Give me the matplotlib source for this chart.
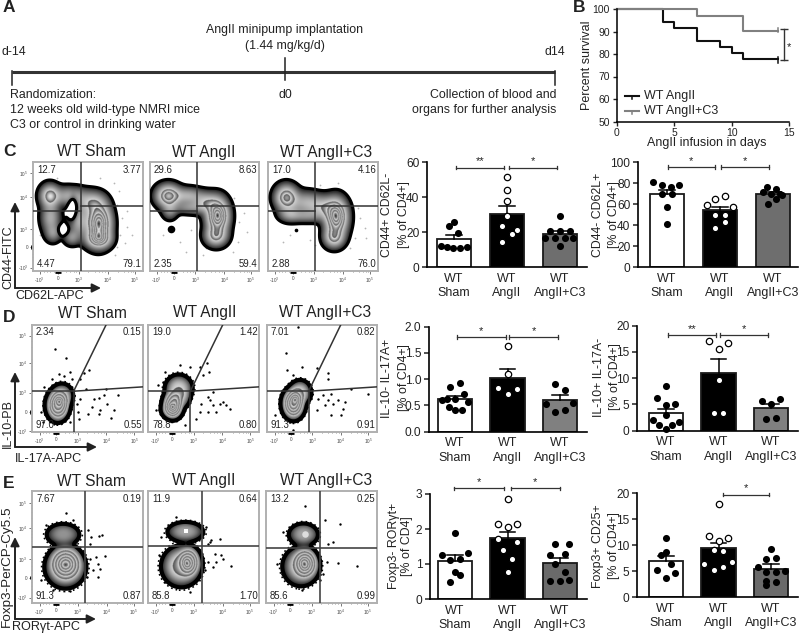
import numpy as np
import matplotlib
matplotlib.use('Agg')
import matplotlib.pyplot as plt

plt.rcParams['font.family'] = ['Liberation Sans', 'DejaVu Sans']
plt.rcParams['mathtext.default'] = 'regular'

W, H = 800, 634
TXT = '#222222'

# Survival curves (panel B)
surv_days = [0, 4, 5, 7, 9, 10, 11, 14]
surv_angii = [100, 94.4, 91.5, 86.0, 83.2, 80.4, 77.6, 77.6]
surv_days_c3 = [0, 7, 11, 14]
surv_c3 = [100, 96.9, 90.4, 90.4]

# Bars: one entry per panel, groups are Sham, AngII, AngII+C3
groups = ['WT\nSham', 'WT\nAngII', 'WT\nAngII+C3']

cd44hi_bar = [16.3, 30.5, 19.2]
cd44hi_err = [18.3, 34.8, 21.0]
cd44hi_y = [[26, 23.5, 19.4, 12.4, 11.4, 11.2, 11.2, 11.8],
            [51.4, 44.2, 38, 29.5, 23.6, 21.3, 18.9, 14.7],
            [29.5, 20.8, 20.8, 20.8, 16.6, 16.6, 16.6, 16.6, 12.4]]
cd44hi_x = [[0, -.09, .08, -.25, -.14, -.01, .11, .24],
            [0, 0, 0, 0, -.09, .18, .09, -.09],
            [0, -.19, 0, .19, -.28, -.09, .09, .25, 0]]

cd62l_bar = [69.5, 54.6, 69.8]
cd62l_err = [73.7, 57.8, 72.0]
cd62l_y = [[81.3, 78.7, 76.8, 78.7, 69.5, 69.5, 57.8, 41.3],
           [59, 65.4, 68.3, 57, 49.8, 49.8, 43.5, 37.8],
           [76.2, 75, 71.4, 69.5, 69.5, 65, 69, 60]]
cd62l_x = [[-.27, -.1, .07, .23, -.1, .09, 0, 0],
           [-.25, -.09, .09, .25, -.09, .09, .09, -.09],
           [-.11, .06, -.19, -.03, .14, .06, .17, -.09]]

il17_bar = [0.62, 1.02, 0.60]
il17_err = [0.68, 1.19, 0.69]
il17_y = [[.93, .86, .71, .60, .63, .63, .56, .48, .41, .41],
          [1.64, 1.09, .83, .81, .72],
          [.91, .79, .55, .53, .41, .38]]
il17_x = [[.09, -.09, .18, -.25, -.16, 0, .25, -.12, 0, .13],
          [0, 0, -.18, .18, 0],
          [-.1, .09, .25, -.26, .09, -.09]]

il10_bar = [3.4, 11.0, 4.3]
il10_err = [4.2, 13.7, 5.1]
il10_y = [[8.6, 6.2, 4.9, 5, 3, 2.1, 1.6, 1.1, 1.1, 0.4],
          [17, 16.8, 15.5, 9.6, 3.4, 3.4],
          [5.7, 6, 5, 2.3, 2.4]]
il10_x = [[0, -.18, 0, .18, 0, -.25, .25, -.13, .12, 0],
          [-.18, .18, 0, 0, -.09, .09],
          [-.18, .18, 0, -.09, .09]]

ror_bar = [1.10, 1.73, 1.03]
ror_err = [1.26, 1.92, 1.17]
ror_y = [[1.89, 1.26, 1.31, 1.11, 1.14, .78, .7, .48],
         [2.85, 2.14, 2.14, 2.05, 1.71, 1.62, 1.41, 1.15, .78],
         [1.57, 1.57, 1.26, 1.29, 1.0, .76, .52, .52, .54]]
ror_x = [[0, -.25, .25, -.09, .09, 0, .09, -.09],
         [0, -.18, .18, 0, -.18, .18, -.09, .09, 0],
         [-.1, .18, -.19, .09, -.1, .09, -.19, 0, .18]]

foxp3_bar = [6.9, 9.4, 5.5]
foxp3_err = [7.9, 10.5, 6.3]
foxp3_y = [[11.3, 8.6, 8.1, 6.4, 5.2, 4.6, 3.7],
           [17.9, 11.8, 10.8, 11.3, 9.1, 8.8, 6.3, 6.8, 5.9, 5.2],
           [9.3, 7.3, 7.5, 5.9, 4.9, 4.9, 5.1, 3.1, 2.9, 2.4]]
foxp3_x = [[0, 0, -.1, .09, -.18, .18, 0],
           [0, -.18, 0, .18, -.09, .09, -.27, .25, .09, -.09],
           [0, -.09, .09, -.25, -.09, .09, .27, -.09, .09, -.09]]

# Flow plots. Everything below is in channel units of each plot frame.
# Density blobs are cx, cy, sx, sy, weight as estimated from the picture
c_blobs = [
    [(50, 225, 17, 20, .55), (110, 225, 30, 17, .3), (175, 205, 25, 20, .35), (196, 143, 22, 35, 1.0),
     (195, 95, 22, 16, .55), (52, 160, 17, 28, .3), (60, 112, 14, 16, .2), (115, 100, 14, 14, .2),
     (135, 150, 18, 30, .3), (91, 123, 8, 8, -.5), (119, 188, 8, 22, -.5)],
    [(55, 225, 22, 20, .7), (115, 225, 28, 15, .3), (170, 205, 24, 18, .35), (205, 165, 20, 30, 1.0),
     (200, 105, 20, 18, .5), (60, 180, 14, 16, .2), (120, 190, 30, 12, .2)],
    [(55, 220, 20, 22, .7), (115, 205, 30, 20, .3), (170, 190, 28, 20, .35), (205, 160, 20, 32, 1.0),
     (198, 100, 18, 18, .5), (65, 170, 20, 14, .25), (115, 165, 30, 12, .2)],
]
d_blobs = [
    [(77, 80, 20, 27, 1), (90, 108, 20, 22, .3)],
    [(75, 82, 18, 24, 1), (92, 130, 24, 24, .4), (70, 66, 18, 16, .3), (100, 100, 16, 18, .2)],
    [(80, 85, 20, 27, 1), (100, 118, 20, 22, .35)],
]
e_blobs = [
    [(100, 118, 28, 30, 1), (100, 105, 34, 34, .5), (93, 205, 30, 20, .25)],
    [(122, 122, 20, 26, 1), (100, 110, 33, 34, .6), (112, 213, 32, 18, .3)],
    [(117, 118, 21, 26, 1), (105, 110, 31, 33, .5), (112, 205, 26, 20, .3)],
]

c_dots = [
    [(252, 198), (267, 158), (282, 133), (262, 108), (252, 73), (277, 83), (297, 108), (242, 263), (202, 278),
     (72, 278), (22, 108), (42, 98), (142, 68), (257, 238), (282, 178), (247, 48)],
    [(125, 123), (90, 88), (110, 58), (150, 98), (170, 68), (255, 218), (270, 148), (285, 173), (265, 88),
     (250, 58), (40, 108), (160, 48), (295, 118)],
    [(65, 108), (45, 88), (125, 93), (140, 78), (255, 168), (275, 158), (290, 128), (260, 98), (245, 68),
     (210, 263), (155, 258), (270, 188), (295, 98)],
]
d_dots = [
    [(68, 247), (103, 222), (170, 185), (155, 175), (143, 160), (163, 128), (223, 128), (257, 110), (215, 112),
     (185, 100), (202, 102), (180, 75), (205, 67), (225, 85), (245, 67), (200, 55), (167, 54), (238, 42),
     (135, 85), (145, 100), (137, 60), (140, 40), (80, 172), (115, 180), (60, 160), (120, 160), (95, 167),
     (35, 135), (27, 60), (33, 30), (115, 30)],
    [(177, 205), (155, 195), (182, 178), (165, 170), (50, 178), (45, 150), (30, 140), (195, 120), (180, 105),
     (195, 80), (215, 85), (235, 80), (245, 70), (180, 60), (205, 60), (155, 60), (145, 40), (185, 95),
     (225, 90), (160, 85), (95, 200), (125, 195), (25, 65), (110, 20)],
    [(93, 315), (58, 235), (105, 195), (150, 190), (185, 175), (185, 160), (255, 128), (305, 115), (195, 115),
     (170, 110), (155, 100), (185, 95), (215, 95), (235, 90), (175, 80), (200, 85), (150, 65), (195, 50),
     (225, 50), (230, 70), (80, 7), (25, 50), (60, 185), (80, 170)],
]
e_dots = [
    [(103, 270), (43, 233), (123, 248), (211, 205), (201, 201), (168, 218), (178, 198), (173, 178), (193, 138),
     (218, 140), (173, 133), (198, 118), (183, 98), (203, 103), (198, 78), (28, 68), (63, 38), (113, 36), (165, 78)],
    [(85, 258), (215, 193), (185, 183), (180, 178), (190, 188), (200, 148), (220, 143), (180, 123), (205, 123),
     (195, 108), (250, 110), (225, 133), (170, 98), (40, 198), (33, 143), (50, 63), (125, 33), (175, 228)],
    [(117, 290), (272, 110), (217, 120), (202, 183), (187, 178), (222, 238), (177, 248), (32, 118), (47, 88),
     (52, 213), (162, 68), (172, 88), (182, 123), (107, 38)],
]

c_quads = [['12.7', '3.77', '4.47', '79.1'], ['29.6', '8.63', '2.35', '59.4'], ['17.0', '4.16', '2.88', '76.0']]
d_quads = [['2.34', '0.15', '97.0', '0.55'], ['19.0', '1.42', '78.8', '0.80'], ['7.01', '0.82', '91.3', '0.91']]
e_quads = [['7.67', '0.19', '91.3', '0.87'], ['11.9', '0.64', '85.8', '1.70'], ['13.2', '0.25', '85.6', '0.99']]

flow_ticklabels = ['-10$^{3}$', '0', '10$^{3}$', '10$^{4}$', '10$^{5}$']
c_xticks, c_yticks = [20, 74, 137, 225, 305], [10, 72, 126, 220, 293]
d_xticks, d_yticks = [23, 73, 137, 223, 307], [3, 60, 118, 207, 288]
e_xticks, e_yticks = [23, 73, 137, 225, 305], [16, 76, 131, 225, 300]
flow_minor = [32, 42, 52, 62, 100, 112, 122, 130, 165, 185, 198, 208, 217, 255, 272, 284, 293, 300]

fig = plt.figure(figsize=(W / 100, H / 100), dpi=100)


def px_axes(x0, y0, x1, y1):
    # axes from pixel box, y counted from the top of the picture
    return fig.add_axes([x0 / W, 1 - y1 / H, (x1 - x0) / W, (y1 - y0) / H])


# full page layer for loose text, timeline and arrows
page = px_axes(0, 0, W, H)
page.set_xlim(0, W)
page.set_ylim(H, 0)
page.axis('off')
page.set_zorder(10)


def label(x, y, s, size=8.9, ha='left', rot=0, weight='normal'):
    page.text(x, y, s, fontsize=size, ha=ha, va='center', rotation=rot, color=TXT, fontweight=weight)


# Panel A
page.plot([12, 555], [71.7, 71.7], color='#333333', lw=2.2, solid_capstyle='butt')
page.plot([12, 12], [71, 85], color='#222222', lw=1.1)
page.plot([285, 285], [58, 80], color='#222222', lw=1.1)
page.plot([555, 555], [71, 85], color='#222222', lw=1.1)
label(2, 52, 'd-14')
label(285, 30.5, 'AngII minipump implantation', ha='center')
label(285, 46.5, '(1.44 mg/kg/d)', ha='center')
label(565, 52, 'd14', ha='right')
label(10, 95, 'Randomization:')
label(10, 110, '12 weeks old wild-type NMRI mice')
label(10, 125, 'C3 or control in drinking water')
label(285, 95, 'd0', ha='center')
label(556, 95, 'Collection of blood and', ha='right')
label(556, 110, 'organs for further analysis', ha='right')

for s, x, y in [('A', 3, 8), ('B', 573, 8), ('C', 3, 152), ('D', 3, 318), ('E', 3, 483)]:
    label(x, y, s, size=12.5, weight='bold')

# Panel B
ax = px_axes(617, 9, 789, 121.5)
ax.step(surv_days, surv_angii, where='post', color='#111111', lw=1.5, clip_on=False)
ax.step(surv_days_c3, surv_c3, where='post', color='#808080', lw=1.5, clip_on=False)
ax.plot([14, 14], [76, 78.5], color='#111111', lw=1.1)
ax.plot([14, 14], [90, 91.5], color='#808080', lw=1.1)
ax.plot([14.6, 14.6], [77.3, 90.9], color='#333333', lw=1, marker='_', ms=6, clip_on=False)
ax.text(15.0, 83.0, '*', fontsize=8, ha='center', va='center', color=TXT)
ax.set_xlim(0, 15)
ax.set_ylim(50, 100)
ax.set_xticks([0, 5, 10, 15])
ax.set_yticks([50, 60, 70, 80, 90, 100])
ax.spines[['top', 'right']].set_visible(False)
for sp in ax.spines.values():
    sp.set_linewidth(1.1)
ax.tick_params(labelsize=7.5, length=3, width=1, pad=2, colors=TXT)
label(587, 65, 'Percent survival', ha='center', rot=90, size=9)
label(707, 143, 'AngII infusion in days', ha='center', size=9)
page.plot([625, 639], [96, 96], color='#111111', lw=1.5)
page.plot([632, 632], [96, 99], color='#111111', lw=1.1)
page.plot([625, 639], [110.7, 110.7], color='#808080', lw=1.5)
page.plot([632, 632], [110.7, 113.7], color='#808080', lw=1.1)
label(644, 96, 'WT AngII', size=9)
label(644, 110.7, 'WT AngII+C3', size=9)


def bar_panel(box, ymax, yticks, fmt, bars, errs, xs, ys, c3_color, brackets):
    ax = px_axes(*box[:4])
    first, step = box[4], box[5]
    ax.set_xlim((box[0] - first) / step, (box[2] - first) / step)
    ax.set_ylim(0, ymax)
    cols = ['white', 'black', c3_color]
    for i in range(3):
        ax.bar(i, bars[i], width=0.66, color=cols[i], edgecolor='#1a1a1a', lw=1.3)
        ax.plot([i, i], [bars[i], errs[i]], color='black', lw=1.1, zorder=3)
        ax.plot([i - .15, i + .15], [errs[i], errs[i]], color='black', lw=1.1, zorder=3)
        px = [i + d for d in xs[i]]
        if i == 1:
            ax.scatter(px, ys[i], s=21, facecolor='white', edgecolor='black', lw=0.9, zorder=4, clip_on=False)
        else:
            ax.scatter(px, ys[i], s=26, color='black', lw=0, zorder=4, clip_on=False)
    for x0, x1, y, star in brackets:
        cap = ymax * 0.018
        ax.plot([x0, x1], [y, y], color='#333333', lw=0.9, clip_on=False)
        ax.plot([x0, x0], [y - cap, y + cap], color='#333333', lw=0.9, clip_on=False)
        ax.plot([x1, x1], [y - cap, y + cap], color='#333333', lw=0.9, clip_on=False)
        ax.text((x0 + x1) / 2, y + ymax * 0.012, star, fontsize=8, ha='center', va='bottom', color=TXT,
                linespacing=0.5)
    ax.set_xticks([0, 1, 2])
    ax.set_xticklabels(groups, linespacing=1.25)
    ax.set_yticks(yticks)
    ax.set_yticklabels([fmt % v for v in yticks])
    ax.spines[['top', 'right']].set_visible(False)
    ax.spines['left'].set_linewidth(1.2)
    ax.spines['bottom'].set_linewidth(1.2)
    ax.tick_params(axis='y', labelsize=8.6, length=3.5, width=1.1, pad=2, colors=TXT)
    ax.tick_params(axis='x', labelsize=9, length=0, pad=4, colors=TXT)
    return ax


bar_panel((427, 162.3, 587, 267.3, 454, 53), 60, [0, 20, 40, 60], '%d', cd44hi_bar, cd44hi_err, cd44hi_x, cd44hi_y,
          '#6e6e6e', [(.03, .94, 57, '**'), (1.04, 1.95, 57, '*')])
bar_panel((638, 162.3, 798, 267.3, 667, 53), 100, [0, 20, 40, 60, 80, 100], '%d', cd62l_bar, cd62l_err, cd62l_x, cd62l_y,
          '#6e6e6e', [(.01, .91, 95.2, '*'), (1.02, 1.93, 95.2, '*')])
bar_panel((429, 326.7, 587, 431.7, 455, 52.5), 2, [0, .5, 1, 1.5, 2], '%.1f', il17_bar, il17_err, il17_x, il17_y,
          '#808080', [(.03, .97, 1.80, '*'), (1.03, 1.96, 1.80, '*')])
bar_panel((637, 325.7, 798, 430.7, 666, 52.5), 20, [0, 5, 10, 15, 20], '%d', il10_bar, il10_err, il10_x, il10_y,
          '#808080', [(.03, .96, 18.2, '**'), (1.02, 1.94, 18.2, '*')])
bar_panel((430, 494, 587, 599, 455, 52.5), 3, [0, 1, 2, 3], '%d', ror_bar, ror_err, ror_x, ror_y,
          '#6a6a6a', [(-.02, .93, 3.16, '*'), (1.06, 2.0, 3.16, '*')])
bar_panel((637, 493, 798, 597.3, 666, 52.5), 20, [0, 5, 10, 15, 20], '%d', foxp3_bar, foxp3_err, foxp3_x, foxp3_y,
          '#6a6a6a', [(1.08, 1.96, 19.7, '*')])

label(387, 215, 'CD44+ CD62L-', ha='center', rot=90)
label(404, 215, '[% of CD4+]', ha='center', rot=90)
label(598, 215, 'CD44- CD62L+', ha='center', rot=90)
label(614, 215, '[% of CD4+]', ha='center', rot=90)
label(387, 378, 'IL-10- IL-17A+', ha='center', rot=90)
label(404, 378, '[% of CD4+]', ha='center', rot=90)
label(599, 377, 'IL-10+ IL-17A-', ha='center', rot=90)
label(615, 377, '[% of CD4+]', ha='center', rot=90)
label(394, 546, 'Foxp3- ROR\u03b3t+', ha='center', rot=90)
label(407, 546, '[% of CD4]', ha='center', rot=90)
label(598, 546, 'Foxp3+ CD25+', ha='center', rot=90)
label(614, 546, '[% of CD4+]', ha='center', rot=90)

# zebra shading: band edges along the way from outline to peak
tight_bands = [0, .34, .48, .62, .74, .86, 1.0]
wide_bands = [0, .5, .62, .72, .81, .9, 1.0]
THR = 0.035


def flow_panel(box, w, h, blobs, dots, quads, xticks, yticks, dot_size, dot_color, first_col,
               bands=tight_bands, power=1.0, edge=2.2):
    ax = px_axes(*box)
    ax.set_xlim(0, w)
    ax.set_ylim(0, h)
    gx = np.linspace(0, w, 400)
    gy = np.linspace(0, h, 400)
    X, Y = np.meshgrid(gx, gy)
    d = np.zeros_like(X)
    for cx, cy, sx, sy, wt in blobs:
        # power above 1 gives the squarer outlines of the D and E rows
        d += wt * np.exp(-0.5 * (((X - cx) / sx) ** 2 + ((Y - cy) / sy) ** 2) ** power)
    dc = np.clip(d, THR, None)
    u = np.log(dc / THR) / np.log(dc.max() / THR)
    v = 1 - (1 - np.clip(u, 0, 1)) ** (0.5 / power)
    edges = np.array(bands)
    idx = np.clip(np.searchsorted(edges, v, side='right') - 1, 0, len(edges) - 2)
    f = (v - edges[idx]) / (edges[idx + 1] - edges[idx])
    gray = 0.3 + 0.62 * f
    gray[idx == 0] = (0.03 + 0.8 * f)[idx == 0]
    gray[idx == len(edges) - 2] = (0.55 * (1 - f) ** 0.7 + 0.05)[idx == len(edges) - 2]
    gray = np.ma.masked_where(d < THR, gray)
    cmap = plt.get_cmap('gray').copy()
    cmap.set_bad('white', 0)
    xs, ys = zip(*dots)
    ax.scatter(xs, ys, s=dot_size, color=dot_color, lw=0, zorder=1)
    ax.imshow(gray, extent=(0, w, 0, h), origin='lower', cmap=cmap, vmin=0, vmax=1, aspect='auto',
              interpolation='bilinear', zorder=2)
    ax.contour(X, Y, d, [THR], colors='black', linewidths=edge, zorder=3)
    if power > 1:
        # loose events hugging the outline
        ax.contour(X, Y, d, [THR * 0.3], colors='black', linewidths=1.2, linestyles=[(0, (1, 1.8))], zorder=1)
    ax.set_xticks(xticks)
    ax.set_xticklabels(flow_ticklabels)
    ax.set_xticks(flow_minor, minor=True)
    ax.tick_params(axis='x', which='minor', length=1, width=0.4, color='#444444')
    if first_col:
        ax.set_yticks(yticks)
        ax.set_yticklabels(flow_ticklabels)
        ax.set_yticks(flow_minor, minor=True)
        ax.tick_params(axis='y', which='minor', length=1, width=0.4, color='#444444')
        ax.plot([-2, -2], [yticks[1] - 5, yticks[1] + 5], color='black', lw=2, clip_on=False, solid_capstyle='butt')
    else:
        ax.set_yticks([])
    ax.tick_params(which='major', labelsize=3.4, length=2, width=0.5, pad=1.5, colors='#444444')
    for sp in ax.spines.values():
        sp.set_color('#b0b0b0')
        sp.set_linewidth(1.4)
    # clump of events piled up on the zero channel
    ax.plot([xticks[1] - 9, xticks[1] + 9], [-3, -3], color='black', lw=2, clip_on=False, solid_capstyle='butt')
    ax.text(12, h * 0.93, quads[0], fontsize=6.9, ha='left', va='center', color=TXT, zorder=6)
    ax.text(w - 4, h * 0.93, quads[1], fontsize=6.9, ha='right', va='center', color=TXT, zorder=6)
    ax.text(12, h * 0.065, quads[2], fontsize=6.9, ha='left', va='center', color=TXT, zorder=6)
    ax.text(w - 4, h * 0.065, quads[3], fontsize=6.9, ha='right', va='center', color=TXT, zorder=6)
    return ax


# Row C
c_boxes = [(33, 162, 143, 271), (150, 162, 259, 271), (268, 162, 378, 271)]
c_vert = [143, 141, 140]
for i in range(3):
    ax = flow_panel(c_boxes[i], 330, 326, c_blobs[i], c_dots[i], c_quads[i], c_xticks, c_yticks, 1.6, '#b5b5b5',
                    i == 0, bands=wide_bands)
    ax.plot([c_vert[i], c_vert[i]], [0, 326], color='#333333', lw=1.1, zorder=5)
    ax.plot([0, c_vert[i]], [180, 180], color='#333333', lw=1.1, zorder=5)
    ax.plot([c_vert[i], 330], [193, 193], color='#333333', lw=1.1, zorder=5)
    if i == 1:
        ax.scatter([63], [125], s=30, color='black', lw=0, zorder=4)
    if i == 2:
        ax.scatter([85], [123], s=7, color='black', lw=0, zorder=4)

# Row D
d_boxes = [(32, 325, 143, 432), (148, 325, 259, 432), (267, 325, 377, 432)]
d_vert = [125, 127, 126]
for i in range(3):
    ax = flow_panel(d_boxes[i], 333, 320, d_blobs[i], d_dots[i], d_quads[i], d_xticks, d_yticks, 3, 'black',
                    i == 0, power=1.4, edge=3)
    vx = d_vert[i]
    ax.plot([vx, vx], [0, 122], color='#333333', lw=1.1, zorder=5)
    ax.plot([0, vx], [122, 122], color='#333333', lw=1.1, zorder=5)
    ax.plot([vx, 333], [122, 135], color='#333333', lw=1.1, zorder=5)
    ax.plot([vx, vx + 97], [122, 320], color='#333333', lw=1.1, zorder=5)

# Row E
e_boxes = [(32, 491, 143, 603), (148, 491, 259, 603), (266, 491, 377, 603)]
e_vert = [158, 162, 162]
e_horiz = [168, 170, 166]
for i in range(3):
    ax = flow_panel(e_boxes[i], 333, 336, e_blobs[i], e_dots[i], e_quads[i], e_xticks, e_yticks, 3, 'black',
                    i == 0, power=1.4, edge=3)
    ax.plot([e_vert[i], e_vert[i]], [0, 336], color='#444444', lw=1.2, zorder=5)
    ax.plot([0, 333], [e_horiz[i], e_horiz[i]], color='#444444', lw=1.2, zorder=5)
    if i == 1:
        ax.scatter([115], [215], s=8, marker='s', color='white', lw=0, zorder=4)
    if i == 2:
        ax.scatter([117], [208], s=22, color='#dddddd', lw=0, zorder=4)

# row titles
for y, xs_t in [(152, [91, 204, 326]), (313, [92, 205, 325]), (481, [91, 204, 326])]:
    for x, s in zip(xs_t, ['WT Sham', 'WT AngII', 'WT AngII+C3']):
        label(x, y, s, size=11.2, ha='center')


def arrows(x, y0, ytop, xright):
    arrowstyle = dict(arrowstyle='-|>', color='#222222', lw=1.4, mutation_scale=13, shrinkA=0, shrinkB=0)
    page.annotate('', xy=(x, ytop), xytext=(x, y0), arrowprops=arrowstyle)
    page.annotate('', xy=(xright, y0), xytext=(x, y0), arrowprops=arrowstyle)


arrows(15, 288, 202, 101)
arrows(15, 447, 372, 97)
arrows(15, 619, 537, 96)
label(8, 257, 'CD44-FITC', size=9, ha='center', rot=90)
label(15, 296, 'CD62L-APC', size=9)
label(8, 423, 'IL-10-PB', size=9, ha='center', rot=90)
label(15, 459, 'IL-17A-APC', size=9.1)
label(7, 566, 'Foxp3-PerCP-Cy5.5', size=9.7, ha='center', rot=90)
label(12, 627, 'ROR\u03b3t-APC', size=9.1)

fig.savefig('out.png', dpi=100)
